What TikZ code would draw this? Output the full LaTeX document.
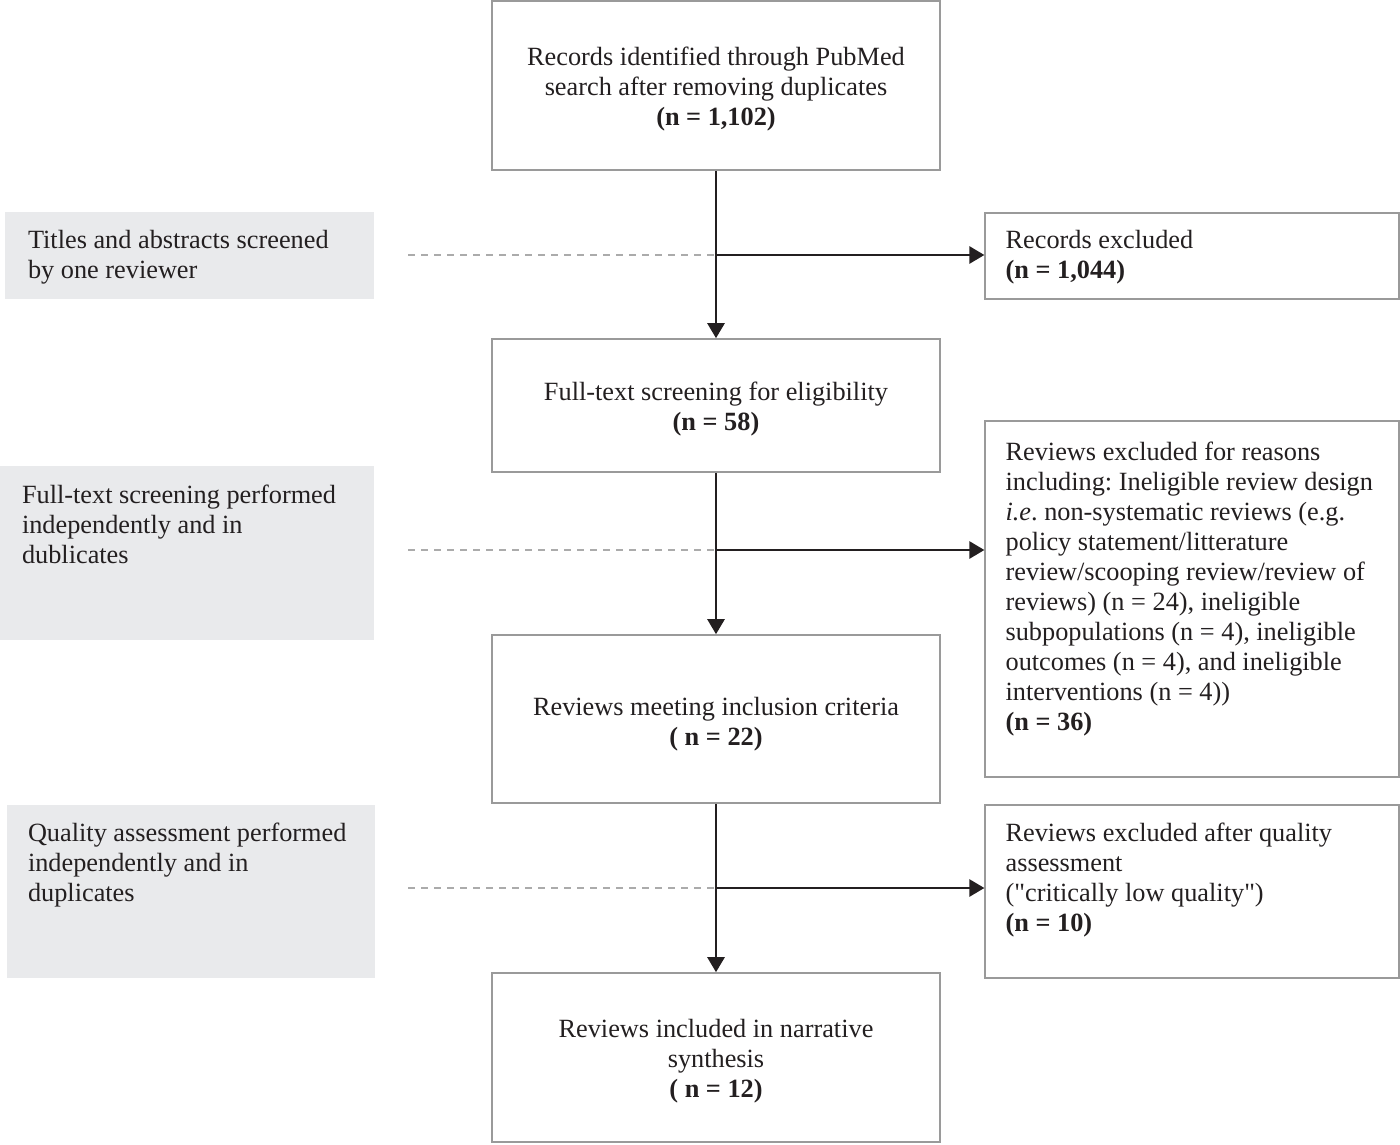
\documentclass[tikz,border=0pt]{standalone}
\usepackage{fontspec}
\setmainfont{Liberation Serif}[Ligatures=TeXOff]
\usetikzlibrary{arrows.meta}
\definecolor{ink}{HTML}{231F20}
\definecolor{boxline}{HTML}{9A9A9A}
\definecolor{panel}{HTML}{E9EAEC}
\definecolor{dashcol}{HTML}{ABABAB}
\frenchspacing
\begin{document}
\begin{tikzpicture}[x=1pt,y=-1pt,
  every node/.style={font=\fontsize{26.3}{30}\selectfont, text=ink},
  flowbox/.style={draw=boxline, line width=1.6pt, fill=white, inner sep=0pt},
  sidebox/.style={draw=boxline, line width=1.2pt, fill=white, inner sep=0pt},
  panelbox/.style={fill=panel, draw=none, inner sep=0pt},
  ctxt/.style={inner sep=0pt, align=center},
  txt/.style={anchor=north west, inner sep=0pt, align=left},
  flowarrow/.style={draw=ink, line width=2.6pt, -{Triangle[length=15pt,width=17pt]}},
  guide/.style={draw=dashcol, line width=1.8pt, dash pattern=on 7pt off 6pt}
]
\useasboundingbox (0,0) rectangle (1400,1144);
% main column boxes
\node[flowbox, minimum width=448pt, minimum height=169pt] (top) at (716,85.5) {};
\node[flowbox, minimum width=448pt, minimum height=133pt] (ft) at (716,405.5) {};
\node[flowbox, minimum width=448pt, minimum height=168pt] (meet) at (716,719) {};
\node[flowbox, minimum width=448pt, minimum height=169pt] (incl) at (716,1057.5) {};
\node[ctxt] (topt) at ([yshift=-4pt]top.center)
  {Records identified through PubMed\\search after removing duplicates\\\textbf{(n = 1,102)}};
\node[ctxt] (ftt) at ([yshift=-4pt]ft.center)
  {Full-text screening for eligibility\\\textbf{(n = 58)}};
\node[ctxt] (meett) at ([yshift=-5pt]meet.center)
  {Reviews meeting inclusion criteria\\\textbf{( n = 22)}};
\node[ctxt] (inclt) at ([yshift=-4pt]incl.center)
  {Reviews included in narrative\\synthesis\\\textbf{( n = 12)}};
% right exclusion boxes
\node[sidebox, minimum width=414pt, minimum height=86pt] (ex1) at (1192,256) {};
\node[sidebox, minimum width=414pt, minimum height=356pt] (ex2) at (1192,599) {};
\node[sidebox, minimum width=414pt, minimum height=173pt] (ex3) at (1192,891.5) {};
\node[txt] (ex1t) at ([shift={(21pt,-18pt)}]ex1.north west)
  {Records excluded\\\textbf{(n = 1,044)}};
\node[txt] (ex2t) at ([shift={(21pt,-21pt)}]ex2.north west)
  {Reviews excluded for reasons\\including: Ineligible review design\\\textit{i.e}.\ non-systematic reviews (e.g.\\policy statement/litterature\\review/scooping review/review of\\reviews) (n = 24), ineligible\\subpopulations (n = 4), ineligible\\outcomes (n = 4), and ineligible\\interventions (n = 4))\\\textbf{(n = 36)}};
\node[txt] (ex3t) at ([shift={(21pt,-18pt)}]ex3.north west)
  {Reviews excluded after quality\\assessment\\("critically low quality")\\\textbf{(n = 10)}};
% left grey panels
\node[panelbox, minimum width=369pt, minimum height=87pt] (p1) at (189.5,255.5) {};
\node[panelbox, minimum width=374pt, minimum height=174pt] (p2) at (187,553) {};
\node[panelbox, minimum width=368pt, minimum height=173pt] (p3) at (191,891.5) {};
\node[txt] (p1t) at ([shift={(23pt,-18pt)}]p1.north west)
  {Titles and abstracts screened\\by one reviewer};
\node[txt] (p2t) at ([shift={(22pt,-19pt)}]p2.north west)
  {Full-text screening performed\\independently and in\\dublicates};
\node[txt] (p3t) at ([shift={(21pt,-18pt)}]p3.north west)
  {Quality assessment performed\\independently and in\\duplicates};
% junction coordinates
\coordinate (j1) at (716,255);
\coordinate (j2) at (716,550);
\coordinate (j3) at (716,888);
\coordinate (d1) at (408,255);
\coordinate (d2) at (408,550);
\coordinate (d3) at (408,888);
% dashed guides
\draw[guide] (d1) -- (j1);
\draw[guide] (d2) -- (j2);
\draw[guide] (d3) -- (j3);
% vertical arrows
\draw[flowarrow] (top.south) -- (ft.north);
\draw[flowarrow] (ft.south) -- (meet.north);
\draw[flowarrow] (meet.south) -- (incl.north);
% horizontal arrows
\draw[flowarrow] (j1) -- (ex1.west |- j1);
\draw[flowarrow] (j2) -- (ex2.west |- j2);
\draw[flowarrow] (j3) -- (ex3.west |- j3);
\end{tikzpicture}
\end{document}
